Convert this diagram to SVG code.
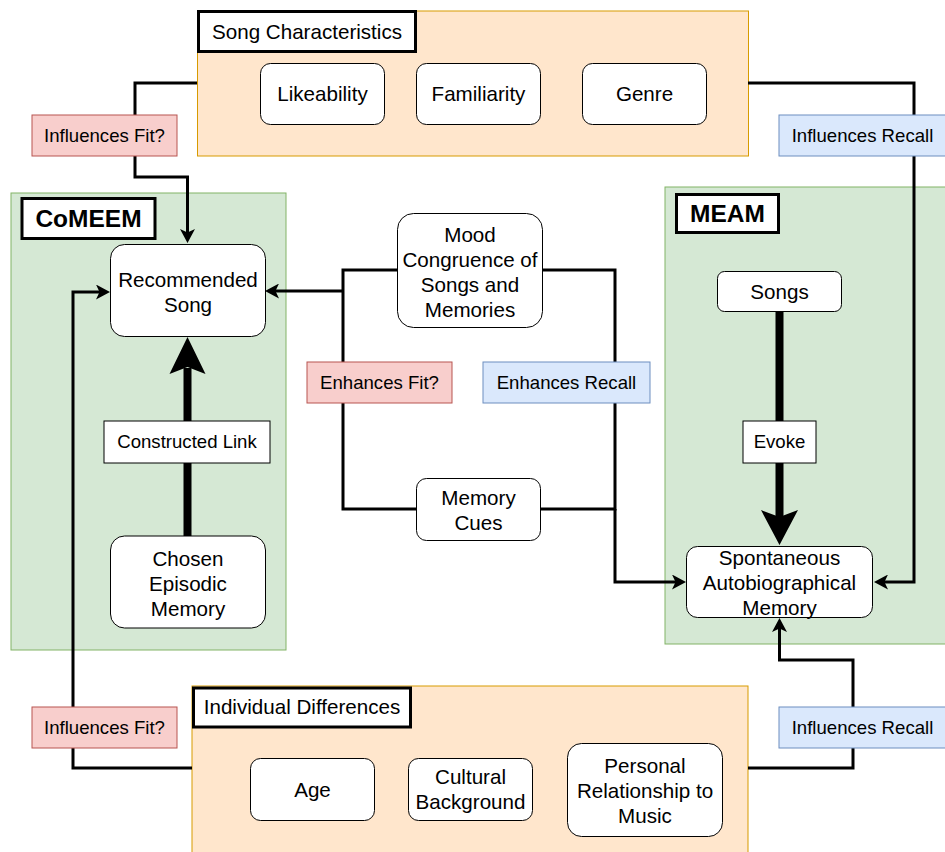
<svg xmlns="http://www.w3.org/2000/svg" width="945" height="852" viewBox="0 0 945 852">
  <defs>
    <marker id="arrow" markerUnits="userSpaceOnUse" viewBox="0 0 14 15" markerWidth="14" markerHeight="15" refX="9" refY="7.5" orient="auto">
      <path d="M0,0 L14,7.5 L0,15 L3.5,7.5 z" fill="#000"/>
    </marker>
  </defs>
  <style>
    text { font-family: "Liberation Sans", Arial, sans-serif; fill: #000; text-anchor: middle; }
    .t20 { font-size: 20.6px; }
    .t18 { font-size: 18.6px; }
    .bold { font-size: 24.5px; font-weight: bold; }
    .green { fill: #d5e8d4; stroke: #82b366; stroke-width: 1; }
    .orange { fill: #ffe6cc; stroke: #d79b00; stroke-width: 1; }
    .title { fill: #fff; stroke: #000; stroke-width: 3; }
    .node { fill: #fff; stroke: #000; stroke-width: 1; }
    .red { fill: #f8cecc; stroke: #b85450; stroke-width: 1; }
    .blue { fill: #dae8fc; stroke: #6c8ebf; stroke-width: 1; }
    .plain { fill: #fff; stroke: #000; stroke-width: 1; }
    .edge { fill: none; stroke: #000; stroke-width: 3; }
    .arr { marker-end: url(#arrow); }
  </style>

  <!-- Containers -->
  <g id="song-characteristics-group">
    <rect class="orange" x="197.5" y="11" width="551" height="145"/>
  </g>
  <g id="comeem-group">
    <rect class="green" x="11" y="193" width="275" height="457"/>
  </g>
  <g id="meam-group">
    <rect class="green" x="665" y="187" width="290" height="457"/>
  </g>
  <g id="individual-differences-group">
    <rect class="orange" x="192" y="686" width="556" height="180"/>
  </g>

  <!-- Connectors -->
  <g id="connectors">
    <path class="edge arr" d="M197,83 H135 V177 H187.5 V238"/>
    <path class="edge arr" d="M748,83 H914 V582 H879"/>
    <path class="edge" d="M397,270 H343 V509 H416"/>
    <path class="edge arr" d="M343,291 H270"/>
    <path class="edge" d="M543,270 H615 V509 H540"/>
    <path class="edge arr" d="M615,509 V582 H681"/>
    <path class="edge arr" d="M192,768 H73 V292 H105"/>
    <path class="edge arr" d="M748,768 H853 V660 H779.5 V623"/>
    <!-- Constructed link (thick) -->
    <rect x="183.5" y="368" width="8" height="168" fill="#000"/>
    <polygon points="187.5,337 205.5,374 187.5,367 169.5,374" fill="#000"/>
    <!-- Evoke (thick) -->
    <rect x="775.5" y="312" width="8" height="206" fill="#000"/>
    <polygon points="779.5,545 798,510 779.5,517 761,510" fill="#000"/>
  </g>

  <!-- Song characteristics -->
  <g id="song-characteristics-title">
    <rect class="title" x="198.5" y="11.5" width="217" height="40"/>
    <text class="t20" x="307" y="39">Song Characteristics</text>
  </g>
  <g id="likeability">
    <rect class="node" x="260.5" y="63.5" width="124" height="61" rx="10"/>
    <text class="t20" x="322.5" y="101">Likeability</text>
  </g>
  <g id="familiarity">
    <rect class="node" x="416.5" y="63.5" width="124" height="61" rx="10"/>
    <text class="t20" x="478.5" y="101">Familiarity</text>
  </g>
  <g id="genre">
    <rect class="node" x="582.5" y="63.5" width="124" height="61" rx="10"/>
    <text class="t20" x="644.5" y="101">Genre</text>
  </g>

  <!-- Edge labels -->
  <g id="label-influences-fit-top">
    <rect class="red" x="32" y="115" width="145" height="41"/>
    <text class="t18" x="104.5" y="142">Influences Fit?</text>
  </g>
  <g id="label-influences-recall-top">
    <rect class="blue" x="779" y="115" width="167" height="41"/>
    <text class="t18" x="862.5" y="142">Influences Recall</text>
  </g>
  <g id="label-enhances-fit">
    <rect class="red" x="307" y="362" width="145" height="41"/>
    <text class="t18" x="379.5" y="389">Enhances Fit?</text>
  </g>
  <g id="label-enhances-recall">
    <rect class="blue" x="483" y="362" width="167" height="41"/>
    <text class="t18" x="566.5" y="389">Enhances Recall</text>
  </g>
  <g id="label-influences-fit-bottom">
    <rect class="red" x="32" y="707" width="145" height="41"/>
    <text class="t18" x="104.5" y="734">Influences Fit?</text>
  </g>
  <g id="label-influences-recall-bottom">
    <rect class="blue" x="779" y="707" width="167" height="41"/>
    <text class="t18" x="862.5" y="734">Influences Recall</text>
  </g>

  <!-- CoMEEM -->
  <g id="comeem-title">
    <rect class="title" x="22" y="198.5" width="133" height="40"/>
    <text class="bold" x="88.5" y="227">CoMEEM</text>
  </g>
  <g id="recommended-song">
    <rect class="node" x="110.5" y="244.5" width="155" height="92" rx="14"/>
    <text class="t20" x="188" y="287">Recommended</text>
    <text class="t20" x="188" y="312">Song</text>
  </g>
  <g id="constructed-link">
    <rect class="plain" x="104" y="421" width="166" height="42"/>
    <text class="t18" x="187" y="448">Constructed Link</text>
  </g>
  <g id="chosen-episodic-memory">
    <rect class="node" x="110.5" y="536" width="155" height="92" rx="14"/>
    <text class="t20" x="188" y="566">Chosen</text>
    <text class="t20" x="188" y="591">Episodic</text>
    <text class="t20" x="188" y="616">Memory</text>
  </g>

  <!-- Middle factors -->
  <g id="mood-congruence">
    <rect class="node" x="397.5" y="213.5" width="145" height="114" rx="16"/>
    <text class="t20" x="470" y="242">Mood</text>
    <text class="t20" x="470" y="267">Congruence of</text>
    <text class="t20" x="470" y="292">Songs and</text>
    <text class="t20" x="470" y="317">Memories</text>
  </g>
  <g id="memory-cues">
    <rect class="node" x="416.5" y="478.5" width="124" height="62" rx="10"/>
    <text class="t20" x="478.5" y="505">Memory</text>
    <text class="t20" x="478.5" y="530">Cues</text>
  </g>

  <!-- MEAM -->
  <g id="meam-title">
    <rect class="title" x="676.5" y="194.5" width="102" height="38"/>
    <text class="bold" x="727.5" y="222">MEAM</text>
  </g>
  <g id="songs">
    <rect class="node" x="717.5" y="271.5" width="124" height="40" rx="7"/>
    <text class="t20" x="779.5" y="299">Songs</text>
  </g>
  <g id="evoke">
    <rect class="plain" x="743" y="421" width="73" height="42"/>
    <text class="t18" x="779.5" y="448">Evoke</text>
  </g>
  <g id="spontaneous-memory">
    <rect class="node" x="686.5" y="546.5" width="186" height="71" rx="11"/>
    <text class="t20" x="779.5" y="565">Spontaneous</text>
    <text class="t20" x="779.5" y="590">Autobiographical</text>
    <text class="t20" x="779.5" y="615">Memory</text>
  </g>

  <!-- Individual differences -->
  <g id="individual-differences-title">
    <rect class="title" x="193.5" y="688" width="217" height="39"/>
    <text class="t20" x="302" y="714">Individual Differences</text>
  </g>
  <g id="age">
    <rect class="node" x="250.5" y="758.5" width="124" height="62" rx="10"/>
    <text class="t20" x="312.5" y="797">Age</text>
  </g>
  <g id="cultural-background">
    <rect class="node" x="408.5" y="758.5" width="124" height="62" rx="10"/>
    <text class="t20" x="470.5" y="784">Cultural</text>
    <text class="t20" x="470.5" y="809">Background</text>
  </g>
  <g id="personal-relationship">
    <rect class="node" x="567.5" y="743.5" width="155" height="93" rx="14"/>
    <text class="t20" x="645" y="773">Personal</text>
    <text class="t20" x="645" y="798">Relationship to</text>
    <text class="t20" x="645" y="823">Music</text>
  </g>
</svg>
